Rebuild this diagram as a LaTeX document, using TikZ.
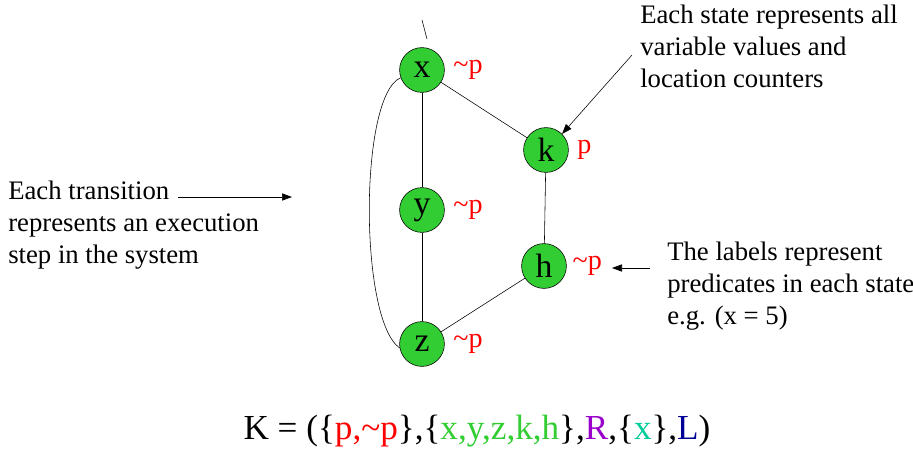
\documentclass[tikz,border=0pt]{standalone}
\usepackage{fontspec}
\setmainfont{Liberation Serif}
\usepackage{tikz}
\usetikzlibrary{arrows.meta,positioning}
\definecolor{stategreen}{RGB}{50,205,50}
\definecolor{labelred}{RGB}{255,0,0}
\definecolor{relpurple}{RGB}{153,0,204}
\definecolor{initteal}{RGB}{0,204,153}
\definecolor{lblue}{RGB}{0,0,153}

\begin{document}
\begin{tikzpicture}[
  x=0.025cm, y=-0.025cm,
  font=\fontsize{19}{22.5}\selectfont,
  node distance=1pt,
  state/.style={circle,draw=black,fill=stategreen,minimum size=1.12cm,
                inner sep=0pt,font=\fontsize{24}{24}\selectfont},
  plabel/.style={text=labelred,inner sep=1pt,font=\fontsize{20}{20}\selectfont},
  note/.style={align=left,inner sep=0pt,anchor=north west},
  edge/.style={black,thin},
  arr/.style={-{Triangle[length=2.5mm,width=1.8mm]},black,thin},
]
  \useasboundingbox (0,0) rectangle (913,452);

  % states
  \node[state] (x) at (422,70)  {x};
  \node[state] (y) at (422,210) {y};
  \node[state] (z) at (422,344) {z};
  \node[state] (k) at (546,150) {k};
  \node[state] (h) at (544,266) {h};

  % labels
  \node[plabel,right=5pt of x] (lx) {\textasciitilde p};
  \node[plabel,right=5pt of y] (ly) {\textasciitilde p};
  \node[plabel,right=5pt of z] (lz) {\textasciitilde p};
  \node[plabel,right=5pt of k] (lk) {p};
  \node[plabel,right=3pt of h] (lh) {\textasciitilde p};

  % transitions
  \coordinate (init) at (422,20);
  \coordinate (initend) at (427,39);
  \draw[edge] (init) -- (initend);
  \draw[edge] (x) -- (y);
  \draw[edge] (y) -- (z);
  \draw[edge] (x) -- (k);
  \draw[edge] (k) -- (h);
  \draw[edge] (h) -- (z);
  \draw[edge] (x.200) .. controls (359,95) and (359,320) .. (z.190);

  % notes
  \node[note] (nstate) at (640,5)
    {Each state represents all\\variable values and\\location counters};
  \node[note] (ntrans) at (8,181)
    {Each transition\\represents an execution\\step in the system};
  \node[note] (nlabel) at (667,242)
    {The labels represent\\predicates in each state\\e.g. (x = 5)};

  \coordinate (tend) at (292,197);
  \coordinate (tstart) at (178,197);
  \coordinate (sstart) at (632,55);
  \coordinate (lstart) at (650,268);
  \coordinate (lend) at (612,268);
  \draw[arr] (tstart) -- (tend);
  \draw[arr] (sstart) -- (k.north east);
  \draw[arr] (lstart) -- (lend);

  % structure
  \node[font=\fontsize{25}{28}\selectfont] (kripke) at (477,431)
    {K = (\{\textcolor{labelred}{p,\textasciitilde p}\},%
     \{\textcolor{stategreen}{x,y,z,k,h}\},%
     \textcolor{relpurple}{R},%
     \{\textcolor{initteal}{x}\},%
     \textcolor{lblue}{L})};
\end{tikzpicture}
\end{document}
